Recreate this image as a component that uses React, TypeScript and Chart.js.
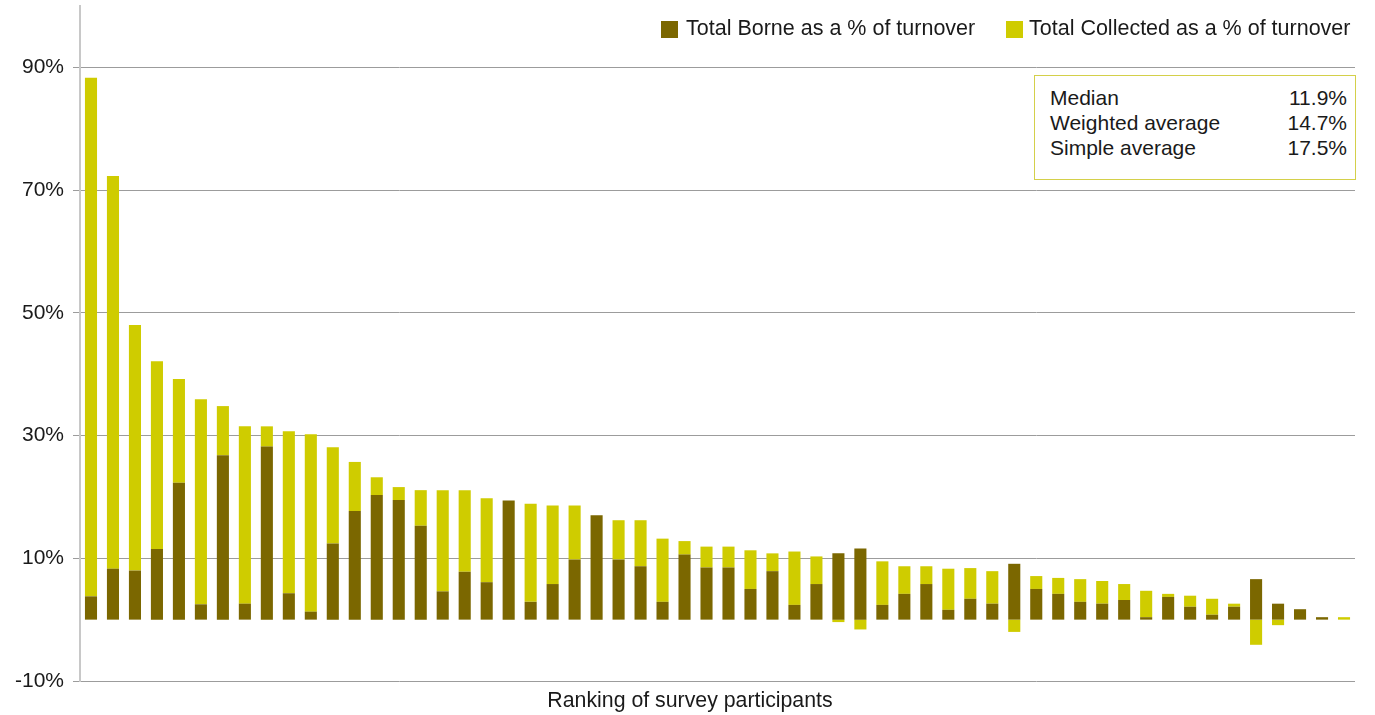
import React, { useEffect, useRef } from "react";
import { Chart, registerables } from "chart.js";

Chart.register(...registerables);

const participants = [
  "1", "2", "3", "4", "5", "6", "7", "8", "9", "10",
  "11", "12", "13", "14", "15", "16", "17", "18", "19", "20",
  "21", "22", "23", "24", "25", "26", "27", "28", "29", "30",
  "31", "32", "33", "34", "35", "36", "37", "38", "39", "40",
  "41", "42", "43", "44", "45", "46", "47", "48", "49", "50",
  "51", "52", "53", "54", "55", "56", "57", "58",
];

// Dark segment: total borne as a % of turnover
const borne = [
  3.8, 8.3, 8.0, 11.5, 22.3, 2.5, 26.8, 2.6, 28.2, 4.3,
  1.3, 12.4, 17.7, 20.3, 19.5, 15.3, 4.6, 7.8, 6.1, 19.4,
  2.9, 5.8, 9.8, 17.0, 9.8, 8.7, 2.9, 10.6, 8.5, 8.5,
  5.0, 7.9, 2.4, 5.8, 10.8, 11.6, 2.4, 4.2, 5.8, 1.6,
  3.4, 2.6, 9.1, 5.0, 4.2, 2.9, 2.6, 3.2, 0.4, 3.7,
  2.1, 0.8, 2.1, 6.6, 2.6, 1.7, 0.4, 0,
];

// Yellow segment: collected (stacked on top of borne; negatives below zero)
const collected = [
  84.5, 64.0, 40.0, 30.6, 16.9, 33.4, 8.0, 28.9, 3.3, 26.4,
  28.9, 15.7, 8.0, 2.9, 2.1, 5.8, 16.5, 13.3, 13.7, 0,
  16.0, 12.8, 8.8, 0, 6.4, 7.5, 10.3, 2.2, 3.4, 3.4,
  6.3, 2.9, 8.7, 4.5, -0.4, -1.6, 7.1, 4.5, 2.9, 6.7,
  5.0, 5.3, -2.0, 2.1, 2.6, 3.7, 3.7, 2.6, 4.3, 0.5,
  1.8, 2.6, 0.5, -4.1, -0.9, 0, 0, 0.4,
];

const yTicks = [-10, 10, 30, 50, 70, 90];

const seriesNames = ["Total Borne as a % of turnover", "Total Collected as a % of turnover"];
const seriesColors = ["#7B6700", "#CFCC00"];
const xTitle = "Ranking of survey participants";

const statLabels = ["Median", "Weighted average", "Simple average"];
const statValues = ["11.9%", "14.7%", "17.5%"];

const FONT = "'Liberation Sans', Arial, Helvetica, sans-serif";
const TEXT = "#1a1a1a";

export default function App() {
  const canvasRef = useRef<HTMLCanvasElement | null>(null);

  useEffect(() => {
    const canvas = canvasRef.current;
    if (!canvas) return;
    const chart = new Chart(canvas, {
      type: "bar",
      data: {
        labels: participants,
        datasets: [
          {
            label: seriesNames[0],
            data: borne,
            backgroundColor: seriesColors[0],
            borderWidth: 0,
            barPercentage: 0.55,
            categoryPercentage: 1,
          },
          {
            label: seriesNames[1],
            data: collected,
            backgroundColor: seriesColors[1],
            borderWidth: 0,
            barPercentage: 0.55,
            categoryPercentage: 1,
          },
        ],
      },
      options: {
        responsive: false,
        animation: false,
        layout: { padding: { left: 0, right: 20, top: 6, bottom: 34 } },
        plugins: {
          legend: { display: false },
          tooltip: { enabled: false },
          title: { display: false },
        },
        scales: {
          x: {
            stacked: true,
            display: false,
          },
          y: {
            stacked: true,
            min: -10,
            max: 100,
            afterBuildTicks: (scale: any) => {
              scale.ticks = yTicks.map((v) => ({ value: v }));
            },
            afterFit: (scale: any) => {
              scale.width = 80;
              scale.paddingTop = 0;
              scale.paddingBottom = 0;
            },
            ticks: {
              color: TEXT,
              font: { family: FONT, size: 21 },
              padding: 9,
              callback: (v: any) => v + "%",
            },
            grid: {
              color: "#9c9c9c",
              lineWidth: 1,
              tickLength: 7,
              tickColor: "#9c9c9c",
            },
            border: { display: true, color: "#c8c8c8", width: 2 },
          },
        },
      },
    });
    return () => chart.destroy();
  }, []);

  const textStyle: React.CSSProperties = {
    position: "absolute",
    fontFamily: FONT,
    fontSize: 21,
    lineHeight: "25px",
    color: TEXT,
    whiteSpace: "nowrap",
  };

  return (
    <div style={{ position: "fixed", left: 0, top: 0, width: 1375, height: 715, background: "#fff" }}>
      <canvas ref={canvasRef} width={1375} height={715} style={{ position: "absolute", left: 0, top: 0 }} />
      {/* legend */}
      <div style={{ position: "absolute", left: 661, top: 21, width: 17, height: 17, background: seriesColors[0] }} />
      <div style={{ ...textStyle, fontSize: 21.5, left: 686, top: 16 }}>{seriesNames[0]}</div>
      <div style={{ position: "absolute", left: 1006, top: 21, width: 17, height: 17, background: seriesColors[1] }} />
      <div style={{ ...textStyle, fontSize: 21.5, left: 1029, top: 16 }}>{seriesNames[1]}</div>
      {/* x axis title */}
      <div style={{ ...textStyle, fontSize: 21.3, left: 0, width: 1380, textAlign: "center", top: 688 }}>{xTitle}</div>
      {/* stats box */}
      <div
        style={{
          position: "absolute",
          left: 1034,
          top: 75,
          width: 322,
          height: 105,
          boxSizing: "border-box",
          border: "1px solid #D4D04A",
          background: "#fff",
        }}
      />
      {statLabels.map((lab, i) => (
        <div
          key={lab}
          style={{
            ...textStyle,
            left: 1050,
            top: 84.5 + 25 * i,
            width: 297,
            display: "flex",
            justifyContent: "space-between",
          }}
        >
          <span>{lab}</span>
          <span>{statValues[i]}</span>
        </div>
      ))}
    </div>
  );
}
